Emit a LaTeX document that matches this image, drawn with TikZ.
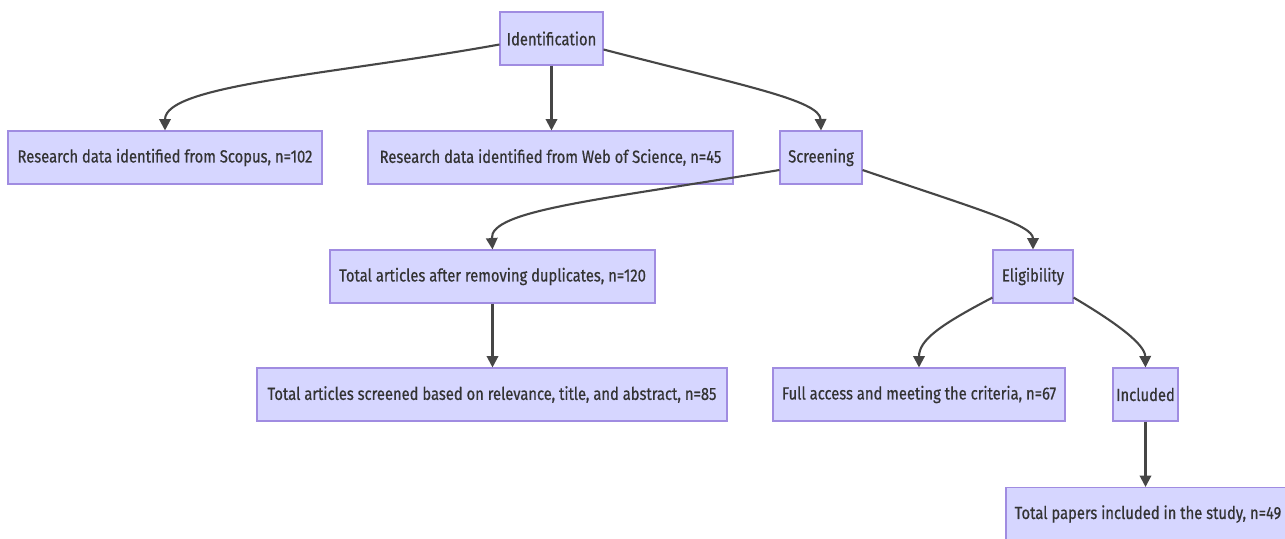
\documentclass[tikz,border=0pt]{standalone}
\usepackage{fontspec}
\setmainfont[FakeStretch=0.84,FakeBold=0.6]{Fira Sans}
\usetikzlibrary{arrows.meta}
\definecolor{boxfill}{RGB}{214,214,255}
\definecolor{boxline}{RGB}{160,140,225}
\definecolor{txt}{RGB}{51,51,51}
\definecolor{edge}{RGB}{70,70,70}
\tikzset{
  box/.style={draw=boxline, fill=boxfill, line width=0.6pt, text=txt,
    inner sep=0pt, minimum height=53*0.02cm,
    font=\fontsize{10}{12}\selectfont},
  conn/.style={draw=edge, line width=1.2pt,
    -{Triangle[length=6.5pt,width=6.5pt]}}
}
\begin{document}
\begin{tikzpicture}[x=0.02cm,y=-0.02cm]
\useasboundingbox (0,0) rectangle (1285,538);
\clip (0,0) rectangle (1285,538);
\node[box, minimum width=103*0.02cm] (id) at (551.5,38.5) {Identification};
\node[box, minimum width=314*0.02cm] (sc) at (165,157.5) {Research data identified from Scopus, n=102};
\node[box, minimum width=365*0.02cm] (wos) at (550.5,157.5) {Research data identified from Web of Science, n=45};
\node[box, minimum width=82*0.02cm] (scr) at (821,157.5) {Screening};
\node[box, minimum width=325*0.02cm] (dup) at (492.5,276.5) {Total articles after removing duplicates, n=120};
\node[box, minimum width=80*0.02cm] (eli) at (1033,276.5) {Eligibility};
\node[box, minimum width=470*0.02cm] (tsc) at (492,394.5) {Total articles screened based on relevance, title, and abstract, n=85};
\node[box, minimum width=292*0.02cm] (fa) at (919,394.5) {Full access and meeting the criteria, n=67};
\node[box, minimum width=65*0.02cm] (inc) at (1145.5,394.5) {Included};
\node[box, minimum width=284*0.02cm] (tp) at (1148,514) {Total papers included in the study, n=49};

\draw[conn] ([yshift=-0.12cm]id.west) .. controls (330,75) and (165,85) .. (sc.north);
\draw[conn] (id.south) -- (id.south |- wos.north);
\draw[conn] ([yshift=-0.22cm]id.east) .. controls (740,85) and (820,100) .. (scr.north);
\draw[conn] ([yshift=-0.25cm]scr.west) .. controls (600,200) and (490,210) .. (dup.north);
\draw[conn] ([yshift=-0.25cm]scr.east) .. controls (980,210) and (1033,225) .. (eli.north);
\draw[conn] (dup.south) -- (dup.south |- tsc.north);
\draw[conn] ([yshift=0.12cm]eli.south west) .. controls (940,325) and (919,340) .. (fa.north);
\draw[conn] ([yshift=0.12cm]eli.south east) .. controls (1120,325) and (1145,345) .. (inc.north);
\draw[conn] (inc.south) -- (inc.south |- tp.north);
\end{tikzpicture}
\end{document}
